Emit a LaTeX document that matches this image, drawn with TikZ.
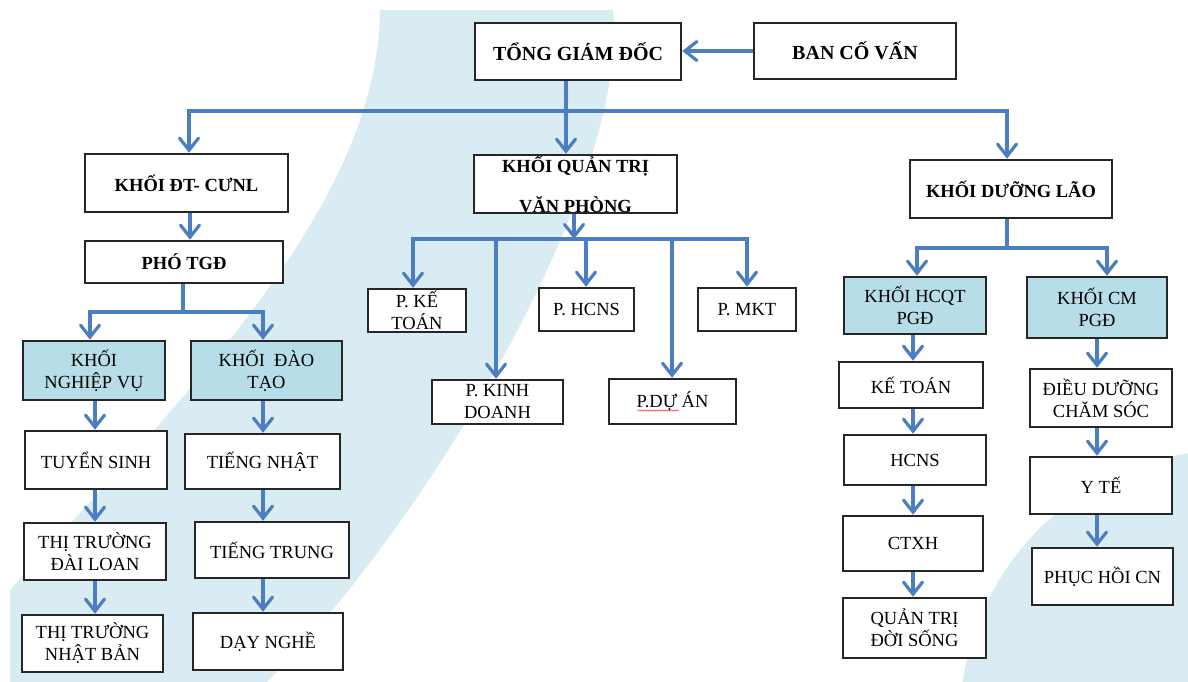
\documentclass[tikz,border=0pt]{standalone}
\usepackage{fontspec}
\setmainfont{Liberation Serif}
\usetikzlibrary{arrows.meta,decorations.pathmorphing}
\definecolor{bgblue}{RGB}{218,236,243}
\definecolor{fillblue}{RGB}{183,222,232}
\definecolor{arrblue}{RGB}{74,126,193}
\begin{document}
\begin{tikzpicture}[x=1pt,y=-1pt,
 box/.style={draw=black!85, line width=2.6pt, fill=white, inner sep=0pt, align=center, font=\fontsize{18.5}{22}\selectfont},
 boldbox/.style={box, font=\fontsize{18.5}{22}\selectfont\bfseries},
 topbox/.style={box, font=\fontsize{20}{24}\selectfont\bfseries},
 blk/.style={box, fill=fillblue},
 ln/.style={draw=arrblue, line width=3.2pt},
 arr/.style={ln, -{Straight Barb[length=12pt,width=19pt,line cap=round]}},
]
\useasboundingbox (0,0) rectangle (1188,681);
\begin{scope}
\clip (10,10) rectangle (1188,681);
\fill[bgblue] (380,10) .. controls (378,200) and (200,380) .. (10,590) -- (0,600) -- (0,690) -- (262,690) -- (268,681) .. controls (430,520) and (630,180) .. (613,10) -- cycle;
\fill[bgblue] (1230,720) circle[radius=270pt];
\end{scope}

% top
\node[topbox, minimum width=206, minimum height=57] (tgd) at (578,51.5) {TỔNG GIÁM ĐỐC};
\node[topbox, minimum width=202, minimum height=56] (ban) at (855,51) {BAN CỐ VẤN};

% second level
\node[boldbox, minimum width=203, minimum height=58] (kdt) at (186.5,183) {KHỐI ĐT- CƯNL};
\node[boldbox, minimum width=198, minimum height=42] (pho) at (184,262) {PHÓ TGĐ};
\node[boldbox, minimum width=203, minimum height=58] (qtvp) at (575.5,184) {KHỐI QUẢN TRỊ\\[18pt]VĂN PHÒNG};
\node[boldbox, minimum width=202, minimum height=58] (dl) at (1011,189) {KHỐI DƯỠNG LÃO};

% left block
\node[blk, minimum width=142, minimum height=59] (knv) at (94,370.5) {KHỐI\\NGHIỆP VỤ};
\node[blk, minimum width=151, minimum height=59] (kdtao) at (266.5,370.5) {KHỐI\ \ ĐÀO\\TẠO};
\node[box, minimum width=142, minimum height=58] (ts) at (96,460) {TUYỂN SINH};
\node[box, minimum width=155, minimum height=55] (tn) at (262.5,461.5) {TIẾNG NHẬT};
\node[box, minimum width=142, minimum height=57] (tdl) at (95,551.5) {THỊ TRƯỜNG\\ĐÀI LOAN};
\node[box, minimum width=154, minimum height=56] (tt) at (272,550) {TIẾNG TRUNG};
\node[box, minimum width=141, minimum height=57] (tnb) at (92.5,643.5) {THỊ TRƯỜNG\\NHẬT BẢN};
\node[box, minimum width=150, minimum height=57] (dn) at (268,641.5) {DẠY NGHỀ};

% middle block
\node[box, minimum width=98, minimum height=43] (pkt) at (417,310.5) {P. KẾ\\TOÁN};
\node[box, minimum width=131, minimum height=44] (pkd) at (497.5,402) {P. KINH\\DOANH};
\node[box, minimum width=95, minimum height=43] (phcns) at (586.5,309.5) {P. HCNS};
\node[box, minimum width=127, minimum height=45] (pda) at (672.5,401.5) {P.DỰ ÁN};
\node[box, minimum width=98, minimum height=43] (pmkt) at (747,309.5) {P. MKT};

% right block
\node[blk, minimum width=142, minimum height=57] (hcqt) at (915,305.5) {KHỐI HCQT\\PGĐ};
\node[blk, minimum width=140, minimum height=61] (cm) at (1097,307.5) {KHỐI CM\\PGĐ};
\node[box, minimum width=144, minimum height=46] (kt2) at (911,385) {KẾ TOÁN};
\node[box, minimum width=142, minimum height=50] (hcns2) at (915,460) {HCNS};
\node[box, minimum width=140, minimum height=55] (ctxh) at (913,543.5) {CTXH};
\node[box, minimum width=143, minimum height=60] (qtds) at (914.5,628) {QUẢN TRỊ\\ĐỜI SỐNG};
\node[box, minimum width=142, minimum height=58] (ddcs) at (1101,398) {ĐIỀU DƯỠNG\\CHĂM SÓC};
\node[box, minimum width=142, minimum height=57] (yte) at (1101,485.5) {Y TẾ};
\node[box, minimum width=141, minimum height=57] (phcn) at (1102.5,576.5) {PHỤC HỒI CN};

% spell-check mark
\draw[red!85, line width=0.5pt, decorate, decoration={snake, amplitude=0.7pt, segment length=3pt}] ([xshift=-35pt,yshift=-9pt]pda.center) -- ([xshift=6pt,yshift=-9pt]pda.center);

% coordinates for buses and columns
\coordinate (b0) at (566,111);
\coordinate (bL) at (189,111);
\coordinate (bR) at (1007,111);
\coordinate (cK) at (190,0);
\coordinate (p0) at (183,312);
\coordinate (pL) at (90,0);
\coordinate (pR) at (263,0);
\coordinate (cL) at (95,0);
\coordinate (cR) at (263,0);
\coordinate (q0) at (574,239);
\coordinate (qa) at (413,0);
\coordinate (qb) at (496,0);
\coordinate (qc) at (586,0);
\coordinate (qd) at (672,0);
\coordinate (qe) at (747,0);
\coordinate (d0) at (1007,248);
\coordinate (dA) at (917,0);
\coordinate (dB) at (1107,0);
\coordinate (eL) at (913,0);
\coordinate (eR) at (1097,0);

% connectors
\draw[arr] (ban.west) -- (tgd.east |- ban.west);
\draw[arr] (tgd.south -| b0) -- (qtvp.north -| b0);
\draw[arr] (b0) -| (kdt.north -| bL);
\draw[arr] (b0) -| (dl.north -| bR);
\draw[arr] (kdt.south -| cK) -- (pho.north -| cK);
\draw[ln] (pho.south -| p0) -- (p0);
\draw[arr] (p0) -| (knv.north -| pL);
\draw[arr] (p0) -| (kdtao.north -| pR);
\draw[arr] (knv.south -| cL) -- (ts.north -| cL);
\draw[arr] (ts.south -| cL) -- (tdl.north -| cL);
\draw[arr] (tdl.south -| cL) -- (tnb.north -| cL);
\draw[arr] (kdtao.south -| cR) -- (tn.north -| cR);
\draw[arr] (tn.south -| cR) -- (tt.north -| cR);
\draw[arr] (tt.south -| cR) -- (dn.north -| cR);
\draw[arr] (qtvp.south -| q0) -- (q0);
\draw[arr] (q0) -| (pkt.north -| qa);
\draw[arr] (q0) -| (pkd.north -| qb);
\draw[arr] (q0) -| (phcns.north -| qc);
\draw[arr] (q0) -| (pda.north -| qd);
\draw[arr] (q0) -| (pmkt.north -| qe);
\draw[ln] (dl.south -| d0) -- (d0);
\draw[arr] (d0) -| (hcqt.north -| dA);
\draw[arr] (d0) -| (cm.north -| dB);
\draw[arr] (hcqt.south -| eL) -- (kt2.north -| eL);
\draw[arr] (kt2.south -| eL) -- (hcns2.north -| eL);
\draw[arr] (hcns2.south -| eL) -- (ctxh.north -| eL);
\draw[arr] (ctxh.south -| eL) -- (qtds.north -| eL);
\draw[arr] (cm.south -| eR) -- (ddcs.north -| eR);
\draw[arr] (ddcs.south -| eR) -- (yte.north -| eR);
\draw[arr] (yte.south -| eR) -- (phcn.north -| eR);
\end{tikzpicture}
\end{document}
